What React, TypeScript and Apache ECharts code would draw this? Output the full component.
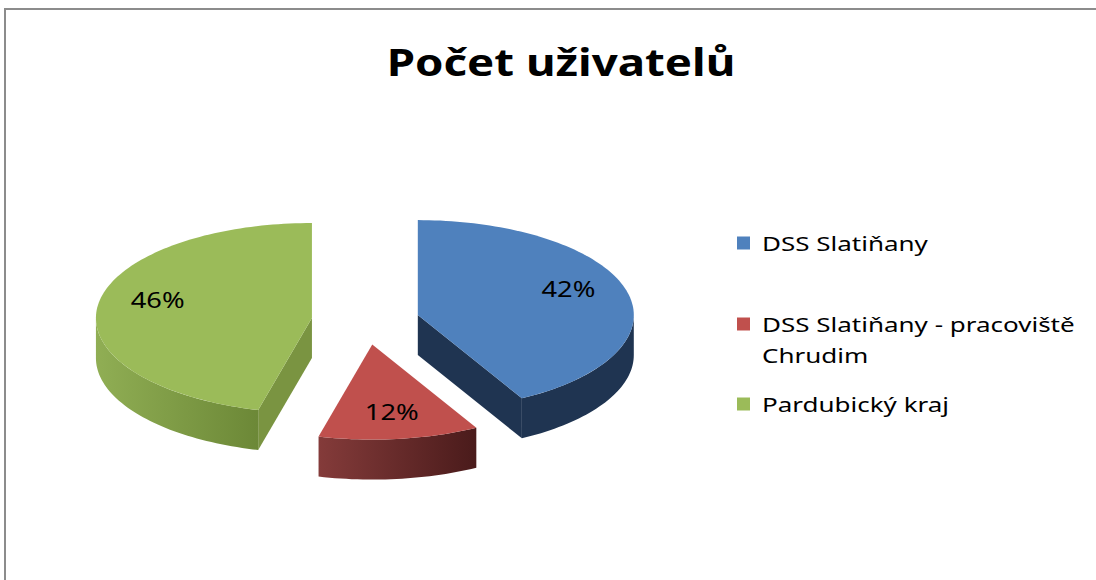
import React, { useEffect, useRef } from "react";
import * as echarts from "echarts";

const titleText = "Počet uživatelů";
const categories = ["DSS Slatiňany", "DSS Slatiňany - pracoviště Chrudim", "Pardubický kraj"];
const legendLines = [["DSS Slatiňany"], ["DSS Slatiňany - pracoviště", "Chrudim"], ["Pardubický kraj"]];
const values = [42, 12, 46];

const topColors = ["#4F81BD", "#C0504D", "#9BBB59"];
const wallColors = [
  ["#1F3451", "#1F3451"],
  ["#843B3A", "#4A1B1B"],
  ["#90AE54", "#6C8837"],
];
const cutColors = ["#1F3451", "#6A2726", "#7A9441"];

const total = values.reduce((a, b) => a + b, 0);

// geometry of the tilted pie
const CX = 365.5;
const CY = 321;
const RX = 216;
const RY = 95;
const DEPTH = 40;
const EXPLODE = 0.25;
const TEXT_SX = 1.3;
const FONT = "'Noto Sans', 'Open Sans', sans-serif";

function pt(cx: number, cy: number, th: number, dy = 0): number[] {
  return [cx + RX * Math.sin(th), cy - RY * Math.cos(th) + dy];
}

function arc(cx: number, cy: number, a0: number, a1: number, dy = 0): number[][] {
  const n = Math.max(2, Math.ceil((a1 - a0) / (Math.PI / 120)));
  const out: number[][] = [];
  for (let k = 0; k <= n; k++) {
    out.push(pt(cx, cy, a0 + ((a1 - a0) * k) / n, dy));
  }
  return out;
}

function renderItem(params: any, api: any) {
  const i = params.dataIndex;
  const v = api.value(0);
  let before = 0;
  for (let j = 0; j < i; j++) before += values[j];
  const a0 = (before / total) * Math.PI * 2;
  const a1 = ((before + v) / total) * Math.PI * 2;
  const am = (a0 + a1) / 2;
  const cx = CX + EXPLODE * RX * Math.sin(am);
  const cy = CY - EXPLODE * RY * Math.cos(am);
  const children: any[] = [];

  // cut face at start edge
  if (Math.sin(a0) < -1e-6) {
    const p = pt(cx, cy, a0);
    children.push({
      type: "polygon",
      shape: { points: [[cx, cy], p, [p[0], p[1] + DEPTH], [cx, cy + DEPTH]] },
      style: { fill: cutColors[i] },
    });
  }
  // cut face at end edge
  if (Math.sin(a1) > 1e-6) {
    const p = pt(cx, cy, a1);
    children.push({
      type: "polygon",
      shape: { points: [[cx, cy], p, [p[0], p[1] + DEPTH], [cx, cy + DEPTH]] },
      style: { fill: cutColors[i] },
    });
  }
  // outer wall (front half only)
  const w0 = Math.max(a0, Math.PI / 2);
  const w1 = Math.min(a1, (Math.PI * 3) / 2);
  if (w1 > w0) {
    const topArc = arc(cx, cy, w0, w1);
    const botArc = arc(cx, cy, w0, w1, DEPTH).reverse();
    const leftDark = true;
    children.push({
      type: "polygon",
      shape: { points: topArc.concat(botArc) },
      style: {
        fill: new echarts.graphic.LinearGradient(0, 0, 1, 0, [
          { offset: 0, color: leftDark ? wallColors[i][0] : wallColors[i][1] },
          { offset: 1, color: wallColors[i][1] },
        ]),
      },
    });
  }
  // top face
  children.push({
    type: "polygon",
    shape: { points: [[cx, cy]].concat(arc(cx, cy, a0, a1)) },
    style: { fill: topColors[i] },
  });
  // label
  const lx = cx + 0.72 * RX * Math.sin(am);
  const ly = cy - 0.72 * RY * Math.cos(am) - 10 * Math.sin(am) * Math.sin(am);
  children.push({
    type: "text",
    x: lx,
    y: ly,
    scaleX: TEXT_SX,
    style: {
      text: Math.round((v / total) * 100) + "%",
      x: 0,
      y: 0,
      fill: "#000",
      fontSize: 21,
      fontFamily: FONT,
      align: "center",
      verticalAlign: "middle",
    },
  });
  return { type: "group", children };
}

const legendY = [243, 324, 404];

export default function App() {
  const ref = useRef<HTMLDivElement>(null);
  useEffect(() => {
    const chart = echarts.init(ref.current!, null, { renderer: "svg" });
    const legendEls: any[] = [];
    legendLines.forEach((lines, i) => {
      legendEls.push({
        type: "rect",
        shape: { x: 737, y: legendY[i] - 6.5, width: 13, height: 13 },
        style: { fill: topColors[i] },
      });
      legendEls.push({
        type: "text",
        x: 762,
        y: legendY[i] - 15.5,
        scaleX: TEXT_SX,
        style: {
          text: lines.join("\n"),
          x: 0,
          y: 0,
          fill: "#000",
          fontSize: 20,
          lineHeight: 31,
          fontFamily: FONT,
          align: "left",
          verticalAlign: "top",
        },
      });
    });
    chart.setOption({
      animation: false,
      backgroundColor: "#ffffff",
      graphic: [
        { type: "line", shape: { x1: 5, y1: 8, x2: 5, y2: 580 }, style: { stroke: "#8c8c8c", lineWidth: 2 } },
        { type: "line", shape: { x1: 4, y1: 9, x2: 1096, y2: 9 }, style: { stroke: "#8c8c8c", lineWidth: 2 } },
        {
          type: "text",
          x: 561,
          y: 61,
          scaleX: 1.2,
          style: {
            text: titleText,
            x: 0,
            y: 0,
            fill: "#000",
            fontSize: 38,
            fontWeight: "bold",
            fontFamily: FONT,
            align: "center",
            verticalAlign: "middle",
          },
        },
        ...legendEls,
      ],
      series: [
        {
          type: "custom",
          coordinateSystem: "none",
          renderItem,
          data: values.map((v, i) => ({ name: categories[i], value: [v] })),
        },
      ],
    });
    return () => chart.dispose();
  }, []);
  return (
    <div
      ref={ref}
      style={{ position: "fixed", left: 0, top: 0, width: 1096, height: 580, background: "#fff" }}
    />
  );
}
